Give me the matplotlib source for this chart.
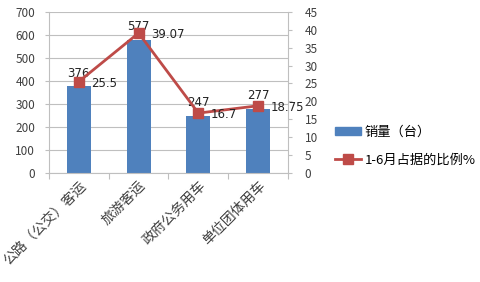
import matplotlib
matplotlib.use("Agg")
import matplotlib.pyplot as plt
from matplotlib.lines import Line2D
from matplotlib.patches import Patch

plt.rcParams['font.family'] = ['Noto Sans CJK SC', 'DejaVu Sans']

categories = ['公路（公交）客运', '旅游客运', '政府公务用车', '单位团体用车']
sales = [376, 577, 247, 277]
share = [25.5, 39.07, 16.7, 18.75]
share_labels = ['25.5', '39.07', '16.7', '18.75']
series_names = ['销量（台）', '1-6月占据的比例%']

bar_color = '#4F81BD'
line_color = '#BE4B48'
grid_color = '#BFBFBF'
text_color = '#404040'

fig = plt.figure(figsize=(4.8, 2.82), dpi=100)
ax = fig.add_axes([0.102, 0.387, 0.498, 0.571])
ax2 = ax.twinx()

x = list(range(len(categories)))
ax.bar(x, sales, width=0.4, color=bar_color, zorder=2)
ax.set_xlim(-0.5, 3.5)
ax.set_ylim(0, 700)
ax.set_yticks(range(0, 701, 100))
ax.yaxis.grid(True, color=grid_color, linewidth=0.8, zorder=0)
ax.set_axisbelow(True)
ax.set_xticks([i + 0.5 for i in range(-1, 4)], minor=False)
ax.set_xticklabels([])
ax.set_xticks(x, minor=True)
ax.set_xticklabels(categories, minor=True, rotation=45, ha='right',
                   rotation_mode='anchor', fontsize=10, color=text_color)
ax.tick_params(axis='x', which='minor', length=0, pad=4)
ax.tick_params(axis='x', which='major', length=4, color=grid_color, direction='out')
ax.tick_params(axis='y', length=3, color=grid_color, labelsize=8.5,
               labelcolor=text_color, pad=7)
for s in ['top', 'right']:
    ax.spines[s].set_visible(False)
for s in ['left', 'bottom']:
    ax.spines[s].set_color(grid_color)

ax2.plot(x, share, color=line_color, linewidth=2, marker='s', markersize=7,
         markerfacecolor=line_color, markeredgecolor=line_color, zorder=3)
ax2.set_ylim(0, 45)
ax2.set_yticks(range(0, 46, 5))
ax2.tick_params(axis='y', length=3, color=grid_color, labelsize=8.5,
                labelcolor=text_color, pad=9)
for s in ['top', 'left', 'bottom']:
    ax2.spines[s].set_visible(False)
ax2.spines['right'].set_color(grid_color)

for xi, v in zip(x, sales):
    ax.annotate(str(v), (xi, v), xytext=(0, 9.5), textcoords='offset points',
                ha='center', va='center', fontsize=8.5, color='#222222',
                family='DejaVu Sans', zorder=5)
for xi, v, lab in zip(x, share, share_labels):
    ax2.annotate(lab, (xi, v), xytext=(9, -1), textcoords='offset points',
                 ha='left', va='center', fontsize=8.5, color='#222222',
                 family='DejaVu Sans', zorder=5)

handles = [Patch(facecolor=bar_color, edgecolor=bar_color),
           Line2D([0], [0], color=line_color, linewidth=2, marker='s',
                  markersize=7)]
fig.legend(handles, series_names, loc='center left',
           bbox_to_anchor=(0.697, 0.482), frameon=False, fontsize=9.5,
           handlelength=2.0, handleheight=0.5, labelspacing=1.15,
           handletextpad=0.3, borderpad=0, borderaxespad=0)

fig.savefig('out.png', dpi=100)
